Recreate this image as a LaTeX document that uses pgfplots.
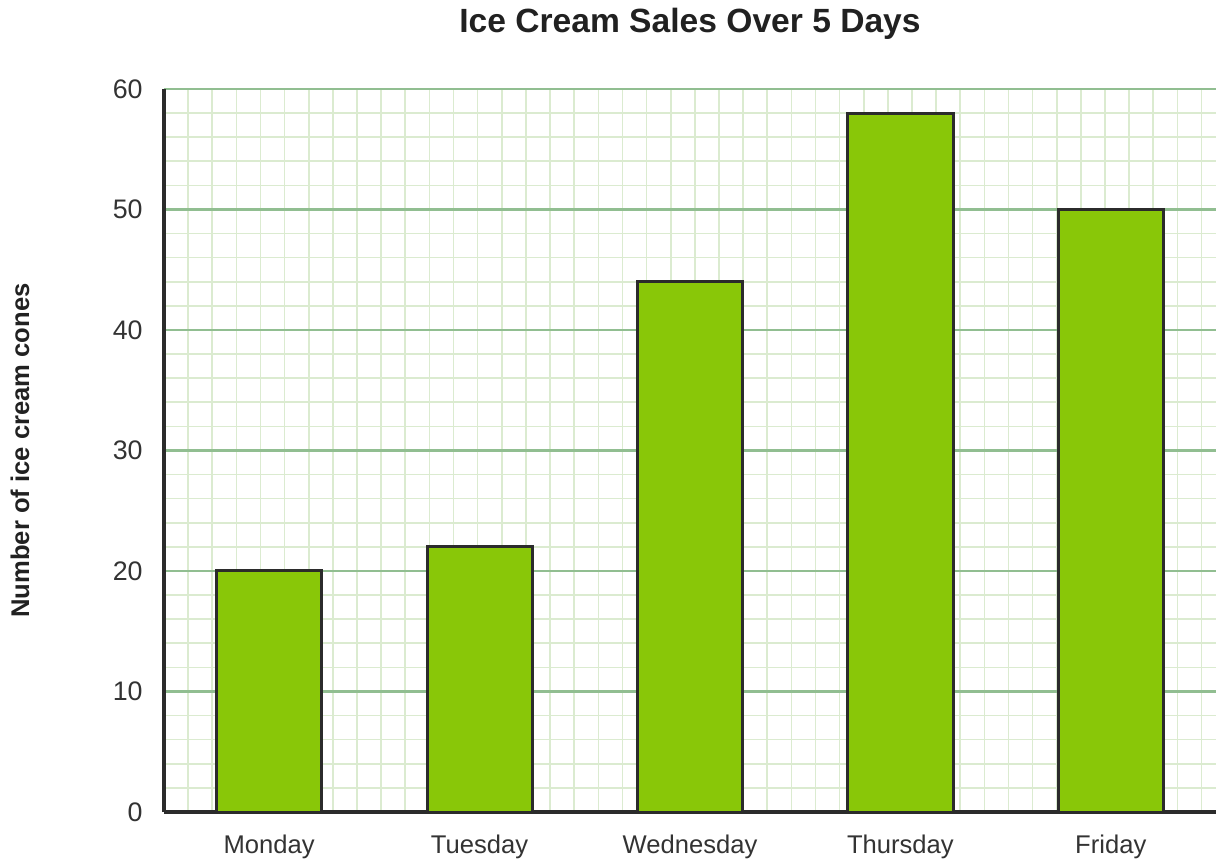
\documentclass[border=0pt]{standalone}
\usepackage{pgfplots}
\pgfplotsset{compat=1.18}
\usepackage{fontspec}
\setmainfont{Liberation Sans}
\definecolor{barfill}{RGB}{137,199,8}
\definecolor{barline}{RGB}{43,43,43}
\definecolor{majgrid}{RGB}{145,190,145}
\definecolor{mingrid}{RGB}{219,235,208}
\definecolor{txt}{RGB}{51,51,51}
\begin{document}
\begin{tikzpicture}
\begin{axis}[
  scale only axis,
  width=526pt, height=361.5pt,
  xmin=-0.5, xmax=4.5,
  ymin=0, ymax=60,
  xtick={0,1,2,3,4},
  xticklabels={Monday,Tuesday,Wednesday,Thursday,Friday},
  ytick={0,10,20,30,40,50,60},
  minor ytick={2,4,6,8,12,14,16,18,22,24,26,28,32,34,36,38,42,44,46,48,52,54,56,58},
  minor xtick={-0.38532,-0.27064,...,4.5},
  ymajorgrids, yminorgrids, xminorgrids,
  major grid style={draw=majgrid, line width=1.1pt},
  minor grid style={draw=mingrid, line width=0.8pt},
  tick style={draw=none},
  major tick length=0pt, minor tick length=0pt,
  axis x line*=bottom, axis y line*=left,
  axis line style={draw=barline, line width=1.75pt},
  /pgf/number format/assume math mode=true,
  ticklabel style={text=txt},
  yticklabel style={inner sep=0pt, anchor=east, xshift=-10.5pt, font=\fontsize{13.4}{16}\selectfont},
  xticklabel style={inner sep=0pt, anchor=base, yshift=-20.5pt, font=\fontsize{12.8}{15}\selectfont},
  title={Ice Cream Sales Over 5 Days},
  title style={at={(0.5,1)}, anchor=base, inner sep=0pt, yshift=22pt, font=\fontsize{16.8}{20}\selectfont\bfseries, text=black!87},
  ylabel={Number of ice cream cones},
  ylabel style={at={(axis description cs:-0.1369,0.5)}, anchor=center, inner sep=0pt, font=\fontsize{12.8}{15}\selectfont\bfseries, text=black!87},
  ybar, bar width=0.5,
]
\addplot[fill=barfill, draw=barline, line width=1.5pt] coordinates {(0,20) (1,22) (2,44) (3,58) (4,50)};
\end{axis}
\path[use as bounding box] (-82pt,-27pt) rectangle (530pt,406pt);
\end{tikzpicture}
\end{document}
